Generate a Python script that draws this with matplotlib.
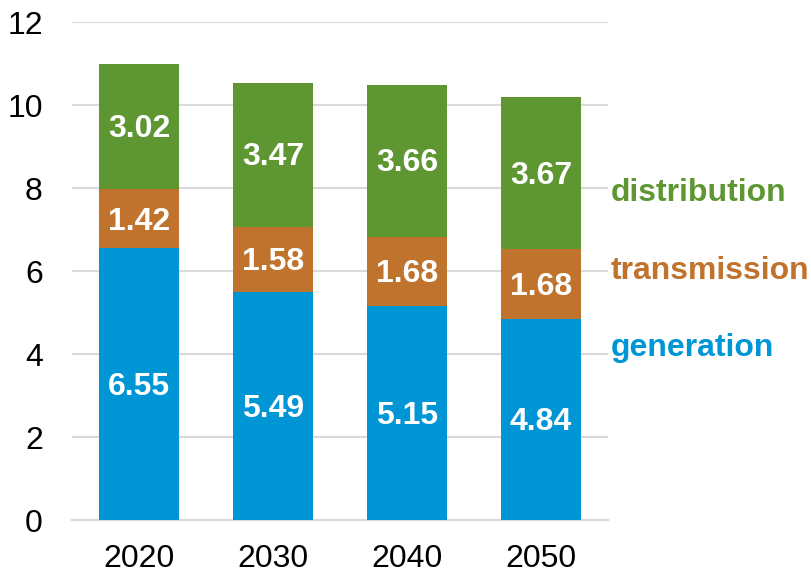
import numpy as np
import matplotlib.pyplot as plt

plt.rcParams['font.family'] = ['Liberation Sans', 'DejaVu Sans']

years = ['2020', '2030', '2040', '2050']
generation = [6.55, 5.49, 5.15, 4.84]
transmission = [1.42, 1.58, 1.68, 1.68]
distribution = [3.02, 3.47, 3.66, 3.67]

c_gen = '#0096D6'
c_trans = '#C0732C'
c_dist = '#5E9732'

fig = plt.figure(figsize=(8.11, 5.72), dpi=100)
ax = fig.add_axes([0.0888, 0.0909, 0.6609, 0.8706])

x = np.arange(len(years))
w = 0.6
gen = np.array(generation)
trans = np.array(transmission)
dist = np.array(distribution)

b1 = ax.bar(x, gen, w, color=c_gen, zorder=3)
b2 = ax.bar(x, trans, w, bottom=gen, color=c_trans, zorder=3)
b3 = ax.bar(x, dist, w, bottom=gen + trans, color=c_dist, zorder=3)

for bars in (b1, b2, b3):
    for b in bars:
        ax.annotate('%.2f' % b.get_height(),
                    (b.get_x() + b.get_width() / 2, b.get_y() + b.get_height() / 2),
                    xytext=(0, -2), textcoords='offset points',
                    ha='center', va='center', color='white', fontsize=23,
                    fontweight='bold', zorder=4)

ax.set_xlim(-0.5, 3.5)
ax.set_ylim(0, 12)
ax.set_yticks(range(0, 13, 2))
ax.set_xticks(x)
ax.set_xticklabels(years)
ax.tick_params(axis='both', length=0, labelsize=23, colors='black')
ax.tick_params(axis='y', pad=21)
ax.tick_params(axis='x', pad=17)
ax.yaxis.grid(True, color='#D9D9D9', linewidth=1.5, zorder=0)
for s in ['top', 'right', 'left']:
    ax.spines[s].set_visible(False)
ax.spines['bottom'].set_color('#D9D9D9')
ax.spines['bottom'].set_linewidth(1.5)

# series names at the right of the last bar
ax.text(3.52, 7.87, 'distribution', color=c_dist, fontsize=23,
        fontweight='bold', va='center', ha='left', clip_on=False)
ax.text(3.52, 6.0, 'transmission', color=c_trans, fontsize=23,
        fontweight='bold', va='center', ha='left', clip_on=False)
ax.text(3.52, 4.15, 'generation', color=c_gen, fontsize=23,
        fontweight='bold', va='center', ha='left', clip_on=False)

fig.savefig('out.png', dpi=100)
